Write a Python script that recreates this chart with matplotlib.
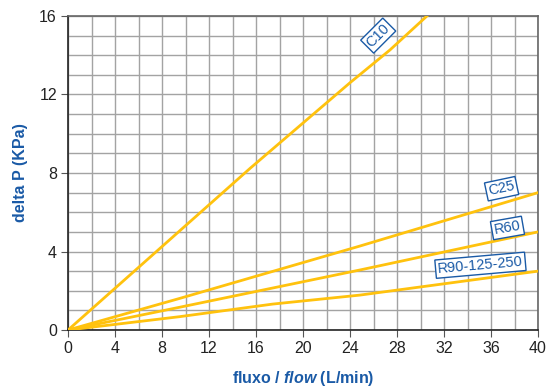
import matplotlib
matplotlib.use("Agg")
from matplotlib import pyplot as plt
from matplotlib.ticker import MultipleLocator

plt.rcParams['font.family'] = ['Liberation Sans', 'DejaVu Sans']
plt.rcParams['mathtext.fontset'] = 'custom'
plt.rcParams['mathtext.it'] = 'Liberation Sans:italic:bold'
plt.rcParams['mathtext.rm'] = 'Liberation Sans:bold'

# curvas (fluxo L/min, delta P KPa)
c10_x = [0, 15.5, 24.0, 27.4, 30.55]
c10_y = [0, 8.24, 12.6, 14.27, 16.0]
c25_x = [0, 9.5, 24.85, 40]
c25_y = [0, 1.61, 4.28, 7.0]
r60_x = [0, 9.5, 24.85, 40]
r60_y = [0, 1.16, 3.06, 5.0]
r90_x = [0, 9.5, 17.4, 24.85, 40]
r90_y = [0, 0.68, 1.32, 1.78, 3.0]

labels = ["C10", "C25", "R60", "R90-125-250"]
label_x = [26.4, 36.9, 37.4, 35.1]
label_y = [15.0, 7.2, 5.2, 3.3]
label_rot = [45, 12, 10, 5]

amarelo = "#ffc20e"
azul = "#1a5aa6"

fig = plt.figure(figsize=(5.49, 3.90), dpi=100)
ax = fig.add_axes([0.1239, 0.1538, 0.98 - 0.1239, 0.959 - 0.1538])

for xs, ys in [(c10_x, c10_y), (c25_x, c25_y), (r60_x, r60_y), (r90_x, r90_y)]:
    ax.plot(xs, ys, color=amarelo, lw=2, zorder=3)

for t, x, y, r in zip(labels, label_x, label_y, label_rot):
    ax.text(x, y, t, color=azul, fontsize=10.5, rotation=r, ha='center', va='center',
            rotation_mode='anchor', zorder=5,
            bbox=dict(boxstyle='square,pad=0.15', fc='white', ec=azul, lw=1))

ax.set_xlim(0, 40)
ax.set_ylim(0, 16)
ax.xaxis.set_major_locator(MultipleLocator(4))
ax.xaxis.set_minor_locator(MultipleLocator(2))
ax.yaxis.set_major_locator(MultipleLocator(4))
ax.yaxis.set_minor_locator(MultipleLocator(1))
ax.grid(which='both', color='#a3a3a3', lw=1, zorder=1)
ax.set_axisbelow(True)
ax.tick_params(which='major', direction='out', length=5, color='#555555',
               labelsize=11.5, labelcolor='#222222', pad=3)
ax.tick_params(which='minor', length=0)

for s in ['left', 'bottom']:
    ax.spines[s].set_color('#222222')
    ax.spines[s].set_linewidth(1.2)
for s in ['top', 'right']:
    ax.spines[s].set_color('#666666')
    ax.spines[s].set_linewidth(1.2)

ax.set_xlabel(r"fluxo / $\mathit{flow}$ (L/min)", color=azul, fontsize=11.5,
              fontweight='bold', labelpad=9)
ax.set_ylabel("delta P (KPa)", color=azul, fontsize=11.5, fontweight='bold', labelpad=8)

fig.savefig("out.png", dpi=100)
